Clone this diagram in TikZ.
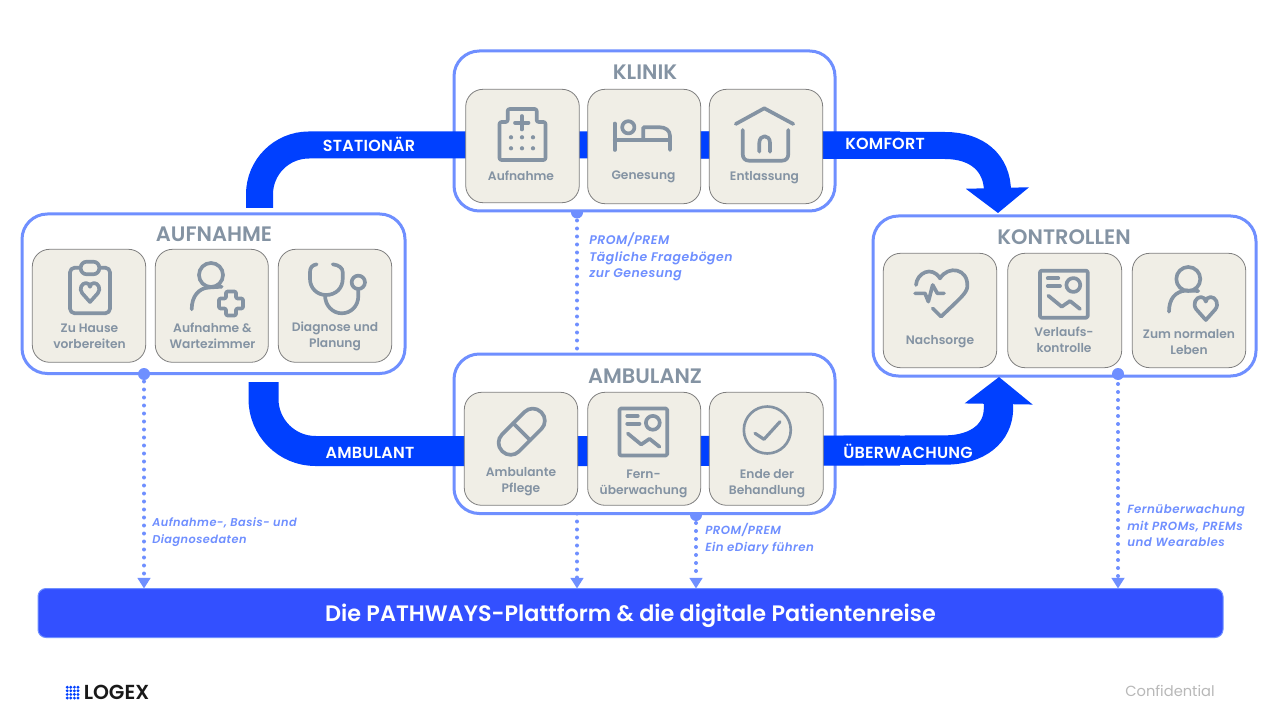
\documentclass[tikz,border=0pt]{standalone}
\usepackage{fontspec}
\setmainfont{Poppins}[BoldFont={Poppins SemiBold},ItalicFont={Poppins Italic},BoldItalicFont={Poppins SemiBold Italic}]
\usetikzlibrary{arrows.meta,calc}
\definecolor{band}{HTML}{0040FF}
\definecolor{edgeblue}{HTML}{6F8FFF}
\definecolor{barblue}{HTML}{3350FF}
\definecolor{cardfill}{HTML}{F0EEE6}
\definecolor{cardline}{HTML}{7F7F7F}
\definecolor{slate}{HTML}{8493A3}
\pgfdeclarelayer{under}
\pgfsetlayers{under,main}
\newcommand{\notefont}[1]{\bfseries\itshape\fontsize{#1}{12.4}\selectfont\addfontfeatures{LetterSpace=4}}
\tikzset{
  panel/.style={draw=edgeblue,fill=white,line width=2.25pt,rounded corners=19pt,inner sep=0pt,outer sep=0pt},
  card/.style={draw=cardline,fill=cardfill,line width=0.6pt,rounded corners=13pt,inner sep=0pt,outer sep=0pt},
  barbox/.style={draw=edgeblue,fill=barblue,line width=0.75pt,rounded corners=6pt,inner sep=0pt,outer sep=0pt,text=white,font=\bfseries\fontsize{16.75}{20}\selectfont},
  bandline/.style={draw=band,line width=20.25pt},
  bandtext/.style={text=white,font=\bfseries\fontsize{12}{14}\selectfont\addfontfeatures{LetterSpace=1.5},inner sep=0pt},
  title/.style={text=slate,font=\bfseries\fontsize{15.7}{18}\selectfont,inner sep=0pt},
  cardtext/.style={text=slate,font=\bfseries\fontsize{9.2}{12}\selectfont,align=center,inner sep=0pt},
  note/.style={text=edgeblue,font=\notefont{#1},align=left,inner sep=0pt,anchor=north west},
  dotline/.style={draw=edgeblue,line width=3pt,line cap=round,dash pattern=on 0pt off 6pt},
  dotarrow/.style={dotline,-{Triangle[width=9.5pt,length=8pt]}},
  portdot/.style={circle,fill=edgeblue,inner sep=0pt,minimum size=9pt},
  icon/.style={draw=slate,line width=2.75pt,line cap=round,line join=round},
  iconfine/.style={draw=slate,line width=2pt,line cap=round,line join=round},
  icondot/.style={fill=slate,draw=none}
}
\newcommand{\bx}[6]{\node[#1,minimum width={(#5-#3)*0.75pt},minimum height={(#6-#4)*0.75pt}] (#2) at ({(#3+#5)/2},{(#4+#6)/2}) {};}
\newcommand{\heartpath}{(0,1) -- (-0.82,0.08) .. controls (-1.2,-0.4) and (-0.85,-1) .. (-0.42,-1) .. controls (-0.2,-1) and (0,-0.82) .. (0,-0.6) .. controls (0,-0.82) and (0.2,-1) .. (0.42,-1) .. controls (0.85,-1) and (1.2,-0.4) .. (0.82,0.08) -- cycle}
\newcommand{\imgicon}[2]{%
  \begin{scope}[shift={(#1,#2)}]
    \draw[icon,rounded corners=1pt] (0,0) rectangle (47.7,47);
    \draw[icon] (7.7,7.6) -- (18.3,7.6);
    \draw[icon] (7.7,15.3) -- (20,15.3);
    \draw[icon] (33.3,14.3) circle (5.2pt);
    \draw[icon] (8.3,25) -- (21.7,36) -- (30,30.3) -- (40,38.3);
  \end{scope}}
\begin{document}
\begin{tikzpicture}[x=0.75pt,y=-0.75pt]
\useasboundingbox (0,0) rectangle (1280,720);
% panels
\bx{panel}{klinik}{454}{51}{835}{211}
\bx{panel}{aufnahme}{22}{214}{405}{373.5}
\bx{panel}{kontrollen}{873}{216}{1256}{376}
\bx{panel}{ambulanz}{454}{354}{835}{513.5}
\node[barbox,minimum width={1185*0.75pt},minimum height={49*0.75pt}] (bar) at (630.5,613) {\raisebox{-6pt}[0pt][0pt]{Die PATHWAYS-Plattform \& die digitale Patientenreise}};
% connector end points
\coordinate (xA) at (144,0);
\coordinate (xK) at (577,0);
\coordinate (xF) at (696,0);
\coordinate (xR) at (1118,0);
\coordinate (stStart) at (259.5,208);
\coordinate (stThrough) at (700,145);
\coordinate (amStart) at (263.5,382);
\coordinate (amThrough) at (700,451);
\coordinate (komTip) at (998,213);
\coordinate (ueTip) at (999,377);
% dotted connectors, beneath the panels
\begin{pgfonlayer}{under}
  \fill[white] (0,0) rectangle (1280,720);
  \node[portdot] (dotK) at (577,212.5) {};
  \node[portdot] (dotF) at (696,515) {};
  \draw[dotline] (dotK.center) -- (xK |- ambulanz.north);
  \draw[dotarrow] (xK |- ambulanz.south) -- (xK |- bar.north);
  \draw[dotarrow] (dotF.center) -- (xF |- bar.north);
  \draw[dotarrow] (xA |- aufnahme.south) -- (xA |- bar.north);
  \draw[dotarrow] (xR |- kontrollen.south) -- (xR |- bar.north);
\end{pgfonlayer}
\node[portdot] (dotA) at (144,374) {};
\node[portdot] (dotR) at (1118,374) {};
% bands
\draw[bandline,rounded corners=37pt] (stStart) |- (stThrough) -- (900,145);
\draw[bandline,-{Triangle[width=46.5pt,length=18.75pt]}] (stThrough) -- (945,145.5) .. controls (977,145.5) and (997.5,163) .. (997.5,192) -- (komTip);
\draw[bandline,line width=22.5pt,rounded corners=39pt] (amStart) |- (amThrough) -- (900,450.5);
\draw[bandline,line width=22pt,-{Triangle[width=50pt,length=20.25pt]}] (amThrough) -- (945,450) .. controls (978,450) and (998.5,433) .. (998.5,408) -- (ueTip);
% cards
\bx{card}{k1}{465.7}{89.3}{579.3}{202.7}
\bx{card}{k2}{587.7}{89.3}{700.7}{203.7}
\bx{card}{k3}{709.3}{89.3}{822.7}{203.7}
\bx{card}{a1}{32.3}{249.3}{145.7}{362.3}
\bx{card}{a2}{155.3}{249.3}{268.3}{362.3}
\bx{card}{a3}{278.3}{249.3}{391.7}{362.3}
\bx{card}{c1}{883.3}{253.3}{996.7}{367.7}
\bx{card}{c2}{1007.7}{253.3}{1121.7}{367.7}
\bx{card}{c3}{1132.3}{253.3}{1245.7}{367.7}
\bx{card}{m1}{464.3}{392.3}{577.7}{505.3}
\bx{card}{m2}{587.7}{392.3}{700.7}{505.3}
\bx{card}{m3}{709.3}{392.3}{823.3}{505.3}
% titles
\node[title] (tK) at (645,72.5) {KLINIK};
\node[title] (tA) at (214,234) {AUFNAHME};
\node[title] (tC) at (1064,237.5) {KONTROLLEN};
\node[title] (tM) at (645,376) {AMBULANZ};
% card labels
\node[cardtext] (lk1) at (521,176) {Aufnahme};
\node[cardtext] (lk2) at (643.5,176.5) {Genesung};
\node[cardtext] (lk3) at (764.5,177.5) {Entlassung};
\node[cardtext] (la1) at (89.5,336) {Zu Hause\\vorbereiten};
\node[cardtext] (la2) at (212.5,336) {Aufnahme \&\\Wartezimmer};
\node[cardtext] (la3) at (335,336) {Diagnose und\\Planung};
\node[cardtext] (lc1) at (940,341.5) {Nachsorge};
\node[cardtext] (lc2) at (1064,340) {Verlaufs-\\kontrolle};
\node[cardtext] (lc3) at (1189,342.5) {Zum normalen\\Leben};
\node[cardtext] (lm1) at (521,482) {Ambulante\\Pflege};
\node[cardtext] (lm2) at (643.5,484) {Fern-\\überwachung};
\node[cardtext] (lm3) at (767,484) {Ende der\\Behandlung};
% band labels
\node[bandtext] (bS) at (369,144) {STATIONÄR};
\node[bandtext] (bK) at (885,144) {KOMFORT};
\node[bandtext] (bA) at (370,453) {AMBULANT};
\node[bandtext] (bU) at (908,451) {ÜBERWACHUNG};
% notes
\node[note=9.35] (n1) at (589,232.5) {PROM/PREM\\Tägliche Fragebögen\\zur Genesung};
\node[note=8.5] (n2) at (152,517.5) {Aufnahme-, Basis- und\\Diagnosedaten};
\node[note=8.85] (n3) at (705,523.5) {PROM/PREM\\Ein eDiary führen};
\node[note=8.9] (n4) at (1127,504.5) {Fernüberwachung\\mit PROMs, PREMs\\und Wearables};
% footer
\node[text=black!90,font=\bfseries\fontsize{15.2}{17}\selectfont,inner sep=0pt,anchor=west] (logo) at (83.5,692.5) {LOGEX};
\foreach \i in {0,1,2,3}{\foreach \j in {0,1,2,3}{\fill[band] ({67.2+\i*3.6},{687.2+\j*3.6}) circle (1.2pt);}}
\node[text=black!28,font=\fontsize{11}{13}\selectfont,inner sep=0pt] (conf) at (1170,691) {Confidential};
% --- icons ---
% hospital
\draw[icon,rounded corners=1.5pt] (499.5,160) -- (499.5,122) -- (507.7,122) -- (507.7,109) -- (536.7,109) -- (536.7,122) -- (545.5,122) -- (545.5,160) -- cycle;
\draw[icon] (521.7,116) -- (521.7,129.5) (515,122.7) -- (528.5,122.7);
\foreach \x in {511,522,533}{\foreach \y in {137.3,148.3}{\fill[icondot] (\x,\y) circle (1.6pt);}}
% bed
\draw[icon] (614.7,123.5) -- (614.7,150);
\draw[icon] (614.7,140) -- (670,140);
\draw[icon] (670,150) -- (670,136) .. controls (670,130) and (665,127.3) .. (660,127.3) -- (643.3,127.3) -- (643.3,140);
\draw[icon] (628.3,127.3) circle (4.6pt);
% house
\draw[icon] (735.7,124) -- (764.3,108.3) -- (793.3,124);
\draw[icon] (742.7,130) -- (742.7,154) .. controls (742.7,158) and (745,160.7) .. (749,160.7) -- (782,160.7) .. controls (786,160.7) and (788.3,158) .. (788.3,154) -- (788.3,130);
\draw[icon] (759.3,151.7) -- (759.3,143) .. controls (759.3,134) and (770,134) .. (770,143) -- (770,151.7);
% clipboard
\draw[icon,rounded corners=3.5pt] (80,267.7) -- (70,267.7) -- (70,313.3) -- (110,313.3) -- (110,267.7) -- (100,267.7);
\draw[icon,fill=cardfill,rounded corners=4.5pt] (80.7,261.7) rectangle (99.3,274.3);
\begin{scope}[shift={(90,292.5)},scale=9.5]
  \draw[icon] \heartpath;
\end{scope}
% person with cross
\draw[icon] (211,275) circle (9pt);
\draw[icon] (191.7,309.3) .. controls (191.7,296) and (199,288) .. (209,287.5) -- (221.7,286.7);
\draw[icon,rounded corners=1pt] (226,291.5) -- (236,291.5) -- (236,298.5) -- (243,298.5) -- (243,308.5) -- (236,308.5) -- (236,315.5) -- (226,315.5) -- (226,308.5) -- (219,308.5) -- (219,298.5) -- (226,298.5) -- cycle;
% stethoscope
\draw[icon] (316.7,264.3) .. controls (312,265) and (310,268) .. (310,272) -- (310,279) .. controls (310,288) and (317,295) .. (326,295) .. controls (336,295) and (342.7,288) .. (342.7,279) -- (342.7,272) .. controls (342.7,268) and (339,265) .. (332.7,264.3);
\draw[icon] (325,295) .. controls (325,306) and (333,313.3) .. (341.7,313.3) .. controls (351,313.3) and (358.3,306) .. (358.3,296) -- (358.3,289);
\draw[icon] (358.3,282.3) circle (5pt);
% heart with pulse
\begin{scope}[shift={(860,205)},x=0.25pt,y=-0.25pt]
  \draw[icon] (168,240) .. controls (170,205) and (215,180) .. (240,220) .. controls (265,180) and (325,190) .. (322,245) .. controls (320,265) and (300,280) .. (243,335) -- (218,310);
  \draw[icon] (165,265) -- (195,265) -- (205,290) -- (218,240) -- (232,265) -- (252,265);
\end{scope}
% image icons
\imgicon{1040}{270.7}
\imgicon{619.5}{408.5}
% person with heart
\draw[icon] (1188.3,279) circle (9pt);
\draw[icon] (1169,311.7) .. controls (1169,299) and (1175,291.5) .. (1186,290.5) -- (1198.3,291);
\begin{scope}[shift={(1205.8,308.5)},scale=11.5]
  \draw[icon] \heartpath;
\end{scope}
% pill
\begin{scope}[shift={(521.7,431.7)},rotate=45]
  \draw[icon,rounded corners=8.8pt] (-27.6,-12) rectangle (27.6,12);
  \draw[icon] (0,-12) -- (0,12);
\end{scope}
% check
\draw[iconfine] (767.3,430) circle (17.6pt);
\draw[iconfine,line width=2.4pt] (755,433.3) -- (764,439.3) -- (780,421.7);
\end{tikzpicture}
\end{document}
